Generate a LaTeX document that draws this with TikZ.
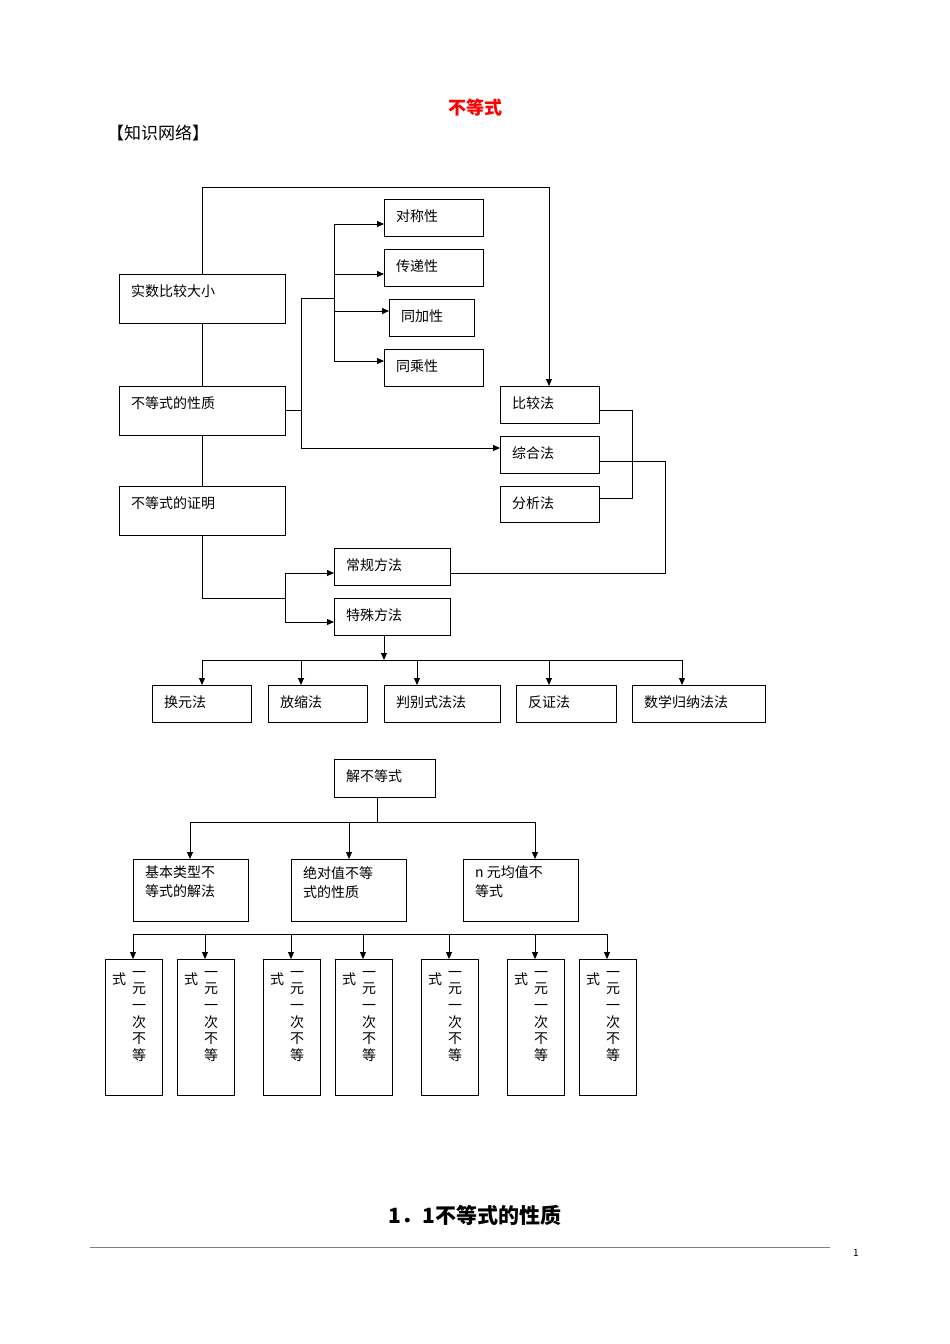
\documentclass[tikz,border=0pt]{standalone}
\usepackage{fontspec}
\setmainfont{Noto Sans CJK SC}
\newfontfamily\cjkb{Noto Sans CJK SC Bold}
\usetikzlibrary{arrows.meta}
\begin{document}
\begin{tikzpicture}[x=1pt,y=-1pt,
  bx/.style={draw,line width=0.9pt,inner sep=0pt},
  tx/.style={anchor=west,font=\fontsize{14}{16}\selectfont,inner sep=0pt},
  ln/.style={line width=0.9pt},
  ar/.style={line width=0.9pt,-{Triangle[length=7pt,width=6pt]}}]
\useasboundingbox (0,0) rectangle (950,1344);
\fill[white] (0,0) rectangle (950,1344);
\node[text=red,font=\fontsize{18}{20}\selectfont\bfseries] (title) at (475,108) {不等式};
\node[font=\fontsize{17}{19}\selectfont] (kw) at (158,133) {【知识网络】};
% boxes: name/left/top/right/bottom/text
\foreach \n/\l/\t/\r/\b/\s in {
 a/119/274/285/323/实数比较大小, b/119/386/285/435/不等式的性质, c/119/486/285/535/不等式的证明,
 d1/384/199/483/236/对称性, d2/384/249/483/286/传递性, d3/389/299/474/336/同加性, d4/384/349/483/386/同乘性,
 e1/500/386/599/423/比较法, e2/500/436/599/473/综合法, e3/500/486/599/522/分析法,
 f1/334/548/450/585/常规方法, f2/334/598/450/635/特殊方法,
 g1/152/685/251/722/换元法, g2/268/685/367/722/放缩法, g3/384/685/500/722/判别式法法, g4/516/685/616/722/反证法, g5/632/685/765/722/数学归纳法法,
 h/334/759/435/797/解不等式}
 {\draw[bx] (\l,\t) rectangle (\r,\b);
  \coordinate (\n) at (\l,\t);
  \node[tx] (\n t) at (\l+12,\t+17) {\s};}
% connectors first diagram
\draw[ln] (202,274) -- (202,187) -- (549,187);
\draw[ar] (549,187) -- (549,386);
\draw[ln] (202,323) -- (202,386);
\draw[ln] (202,435) -- (202,486);
\draw[ln] (202,535) -- (202,598) -- (285,598);
\draw[ln] (285,573) -- (285,622);
\draw[ar] (285,573) -- (334,573);
\draw[ar] (285,622) -- (334,622);
\draw[ln] (285,410) -- (301,410);
\draw[ln] (301,298) -- (301,448);
\draw[ln] (301,298) -- (334,298);
\draw[ln] (334,224) -- (334,361);
\draw[ar] (334,224) -- (384,224);
\draw[ar] (334,274) -- (384,274);
\draw[ar] (334,311) -- (389,311);
\draw[ar] (334,361) -- (384,361);
\draw[ar] (301,448) -- (500,448);
\draw[ln] (599,410) -- (632,410) -- (632,498) -- (599,498);
\draw[ln] (599,461) -- (665,461) -- (665,573) -- (450,573);
\draw[ar] (384,635) -- (384,660);
\draw[ln] (202,660) -- (682,660);
\foreach \x in {202,301,417,549,682} \draw[ar] (\x,660) -- (\x,685);
% second diagram
\draw[ln] (377,797) -- (377,822);
\draw[ln] (190,822) -- (535,822);
\foreach \x in {190,349,535} \draw[ar] (\x,822) -- (\x,859);
\foreach \n/\l/\r/\s/\u in {k1/133/248/基本类型不/等式的解法, k2/291/406/绝对值不等/式的性质, k3/463/578/n 元均值不/等式}
 {\draw[bx] (\l,859) rectangle (\r,921);
  \coordinate (\n) at (\l,859);
  \node[tx,anchor=north west,align=left,font=\fontsize{14}{19}\selectfont] (\n t) at (\l+12,866) {\s\\\u};}
\draw[ln] (133,934) -- (607,934);
\foreach \x/\l in {133/105,205/177,291/263,363/335,449/421,535/507,607/579}
 {\draw[ar] (\x,934) -- (\x,959);
  \draw[bx] (\l,959) rectangle (\l+57,1095);
  \node[font=\fontsize{14}{16}\selectfont,inner sep=0pt] at (\l+14,979) {式};
  \node[font=\fontsize{14}{16.6}\selectfont,inner sep=0pt,align=center,anchor=north] at (\l+34,971) {一\\元\\一\\次\\不\\等};}
\node[font=\fontsize{21}{24}\selectfont\bfseries] (h2) at (475,1215) {1．1不等式的性质};
\draw[gray,line width=0.8pt] (90,1247) -- (830,1247);
\node[font=\fontsize{10}{12}\selectfont] (pg) at (856,1253) {1};
\end{tikzpicture}
\end{document}
